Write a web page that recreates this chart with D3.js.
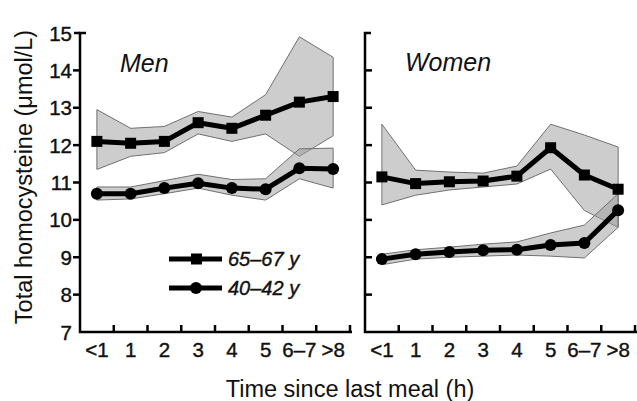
<!DOCTYPE html>
<html>
<head>
<meta charset="utf-8">
<title>Homocysteine vs time since last meal</title>
<script src="https://d3js.org/d3.v7.min.js"></script>
<style>
  body { margin: 0; background: #fff; }
  svg text { font-family: "Liberation Sans", Arial, sans-serif; fill: #111; }
</style>
</head>
<body>
<div id="chart"></div>

<script>
// categories and tick labels
var categories = ["<1", "1", "2", "3", "4", "5", "6\u20137", ">8"];
var yTicks = [7, 8, 9, 10, 11, 12, 13, 14, 15];

// Men, 65-67 y (squares)
var menOld   = [12.1, 12.05, 12.1, 12.6, 12.45, 12.8, 13.15, 13.3];
var menOldHi = [12.95, 12.45, 12.5, 12.9, 12.75, 13.35, 14.9, 14.35];
var menOldLo = [11.35, 11.7, 11.8, 12.3, 12.1, 12.3, 11.7, 12.25];
// Men, 40-42 y (circles)
var menYoung   = [10.7, 10.7, 10.85, 10.98, 10.85, 10.82, 11.38, 11.36];
var menYoungHi = [10.88, 10.88, 11.05, 11.22, 11.08, 11.1, 11.9, 11.92];
var menYoungLo = [10.53, 10.56, 10.7, 10.85, 10.66, 10.53, 11.1, 10.85];

// Women, 65-67 y
var womenOld   = [11.15, 10.97, 11.02, 11.04, 11.17, 11.93, 11.2, 10.82];
var womenOldHi = [12.56, 11.33, 11.28, 11.25, 11.44, 12.56, 12.27, 11.95];
var womenOldLo = [10.4, 10.66, 10.8, 10.88, 10.96, 11.36, 10.25, 9.8];
// Women, 40-42 y
var womenYoung   = [8.95, 9.08, 9.14, 9.19, 9.2, 9.33, 9.38, 10.26];
var womenYoungHi = [9.08, 9.2, 9.27, 9.35, 9.41, 9.65, 9.86, 10.7];
var womenYoungLo = [8.8, 8.95, 9.0, 9.03, 9.06, 9.03, 8.98, 9.8];

var width = 637, height = 401;
var svg = d3.select("#chart").append("svg")
  .attr("width", width).attr("height", height);

var y = d3.scaleLinear().domain([7, 15]).range([332, 33]);

var panels = [
  { name: "Men",   x0: 80,  x1: 350, tickDir: -1, title: [120, 72],
    old: menOld, oldHi: menOldHi, oldLo: menOldLo,
    young: menYoung, youngHi: menYoungHi, youngLo: menYoungLo, labels: true },
  { name: "Women", x0: 365, x1: 635, tickDir: 1, title: [405, 71],
    old: womenOld, oldHi: womenOldHi, oldLo: womenOldLo,
    young: womenYoung, youngHi: womenYoungHi, youngLo: womenYoungLo, labels: false }
];

panels.forEach(function(p) {
  var x = d3.scaleBand().domain(categories).range([p.x0, p.x1]).padding(0);
  var cx = function(d, i) { return x(categories[i]) + x.bandwidth() / 2; };
  var g = svg.append("g");

  // confidence bands
  var area = function(lo, hi) {
    return d3.area()
      .x(function(d, i) { return cx(d, i); })
      .y0(function(d, i) { return y(lo[i]); })
      .y1(function(d, i) { return y(hi[i]); })(categories);
  };
  [[p.oldLo, p.oldHi], [p.youngLo, p.youngHi]].forEach(function(b) {
    g.append("path")
      .attr("d", area(b[0], b[1]))
      .attr("fill", "#9c9c9c")
      .attr("fill-opacity", 0.5)
      .attr("stroke", "#707070")
      .attr("stroke-width", 1);
  });

  // mean lines
  var line = d3.line()
    .x(function(d, i) { return cx(d, i); })
    .y(function(d) { return y(d); });
  [p.old, p.young].forEach(function(s) {
    g.append("path").attr("d", line(s))
      .attr("fill", "none").attr("stroke", "#000")
      .attr("stroke-width", 5).attr("stroke-linejoin", "round");
  });

  g.selectAll("rect.mk").data(p.old).enter().append("rect")
    .attr("x", function(d, i) { return cx(d, i) - 5.5; })
    .attr("y", function(d) { return y(d) - 5.5; })
    .attr("width", 11).attr("height", 11).attr("fill", "#000");
  g.selectAll("circle.mk").data(p.young).enter().append("circle")
    .attr("cx", function(d, i) { return cx(d, i); })
    .attr("cy", function(d) { return y(d); })
    .attr("r", 6).attr("fill", "#000");

  // axes
  var ax = svg.append("g").attr("stroke", "#000").attr("stroke-width", 2.5).attr("fill", "none");
  ax.append("path").attr("d",
    "M" + (p.x0 + 6) + "," + y(15) + "H" + p.x0 + "V" + y(7) + "H" + (p.x1 + 2));
  yTicks.forEach(function(t) {
    if (t === 7 || t === 15) return;
    ax.append("line")
      .attr("x1", p.x0).attr("x2", p.x0 + 7 * p.tickDir)
      .attr("y1", y(t)).attr("y2", y(t));
  });
  if (p.tickDir < 0) {
    ax.append("line").attr("x1", p.x0).attr("x2", p.x0 - 6)
      .attr("y1", y(15)).attr("y2", y(15));
  }
  categories.forEach(function(c) {
    var bx = x(c) + x.bandwidth();
    ax.append("line").attr("x1", bx).attr("x2", bx)
      .attr("y1", y(7)).attr("y2", y(7) - 7);
  });

  if (p.labels) {
    svg.append("g").selectAll("text").data(yTicks).enter().append("text")
      .attr("x", p.x0 - 8).attr("y", function(d) { return y(d) + 7.5; })
      .attr("text-anchor", "end").attr("font-size", 20.5)
      .attr("stroke", "#111").attr("stroke-width", 0.4)
      .text(function(d) { return d; });
  }
  svg.append("g").selectAll("text").data(categories).enter().append("text")
    .attr("x", function(d) { return x(d) + x.bandwidth() / 2; })
    .attr("y", 357).attr("text-anchor", "middle").attr("font-size", 20.5)
    .attr("stroke", "#111").attr("stroke-width", 0.4)
    .text(function(d) { return d; });

  svg.append("text").attr("x", p.title[0]).attr("y", p.title[1])
    .attr("font-size", 25).attr("font-style", "italic").text(p.name);
});

// legend
var legend = [["65\u201367 y", "square", 259], ["40\u201342 y", "circle", 288]];
legend.forEach(function(l) {
  svg.append("line").attr("x1", 169).attr("x2", 222)
    .attr("y1", l[2]).attr("y2", l[2])
    .attr("stroke", "#000").attr("stroke-width", 5);
  if (l[1] === "square") {
    svg.append("rect").attr("x", 191).attr("y", l[2] - 5.5)
      .attr("width", 11).attr("height", 11).attr("fill", "#000");
  } else {
    svg.append("circle").attr("cx", 196).attr("cy", l[2]).attr("r", 6).attr("fill", "#000");
  }
  svg.append("text").attr("x", 228).attr("y", l[2] + 7)
    .attr("font-size", 20).attr("font-style", "italic")
    .attr("stroke", "#111").attr("stroke-width", 0.4).text(l[0]);
});

// axis titles
svg.append("text").attr("x", 350).attr("y", 397)
  .attr("text-anchor", "middle").attr("font-size", 23.5)
  .text("Time since last meal (h)");
svg.append("text")
  .attr("transform", "translate(32,177) rotate(-90)")
  .attr("text-anchor", "middle").attr("font-size", 23.5)
  .text("Total homocysteine (\u03bcmol/L)");
</script>
</body>
</html>
